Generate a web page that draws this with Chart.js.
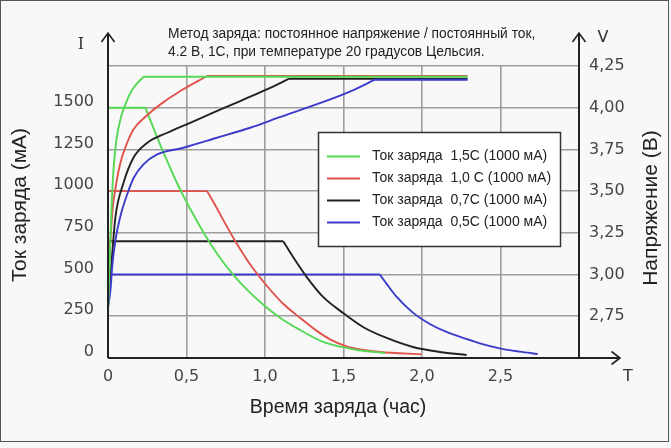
<!DOCTYPE html>
<html>
<head>
<meta charset="utf-8">
<script src="https://cdn.jsdelivr.net/npm/chart.js@4.4.0/dist/chart.umd.min.js"></script>
<style>
  html, body { margin: 0; padding: 0; background: #ffffff; }
  canvas { display: block; }
</style>
</head>
<body>
<canvas id="chartZaryad" width="671" height="448"></canvas>
<script>
// Тексты
var titleLines = [
  "Метод заряда: постоянное напряжение / постоянный ток,",
  "4.2 В, 1С, при температуре 20 градусов Цельсия."
];
var seriesLabels = [
  "Ток заряда  1,5С (1000 мА)",
  "Ток заряда  1,0 С (1000 мА)",
  "Ток заряда  0,7С (1000 мА)",
  "Ток заряда  0,5С (1000 мА)"
];
var seriesColors = ["#55d955", "#e0524c", "#222222", "#3b3bcc"];

// Подписи делений
var timeTickLabels = ["0", "0,5", "1,0", "1,5", "2,0", "2,5", ""];
var currentTickLabels = ["0", "250", "500", "750", "1000", "1250", "1500", ""];
var voltageTickLabels = ["", "2,75", "3,00", "3,25", "3,50", "3,75", "4,00", "4,25"];

// Ток заряда (мА) по времени (час)
var time15I = [0, 0.238, 0.302, 0.366, 0.461, 0.588, 0.696, 0.798, 0.906, 1.014, 1.116, 1.224, 1.37, 1.586, 1.764];
var current15 = [1500, 1500, 1348, 1204, 1007, 785, 623, 498, 390, 300, 228, 168, 96, 48, 30];

var time10I = [0, 0.631, 0.683, 0.747, 0.811, 0.906, 1.014, 1.116, 1.224, 1.319, 1.414, 1.52, 1.62, 1.732, 1.997];
var current10 = [1000, 1000, 915, 805, 700, 560, 430, 325, 240, 170, 112, 70, 50, 36, 22];

var time07I = [0, 1.116, 1.179, 1.266, 1.37, 1.497, 1.624, 1.775, 1.942, 2.114, 2.284];
var current07 = [700, 700, 605, 485, 366, 270, 186, 120, 66, 36, 18];

var time05I = [0, 1.732, 1.775, 1.839, 1.942, 2.05, 2.156, 2.305, 2.368, 2.495, 2.622, 2.737];
var current05 = [500, 500, 444, 366, 272, 204, 156, 108, 88, 58, 38, 24];

// Напряжение (В) по времени (час)
var time15V = [0, 0.013, 0.022, 0.035, 0.054, 0.079, 0.111, 0.156, 0.226, 2.29];
var voltage15 = [2.75, 3.15, 3.39, 3.63, 3.81, 3.93, 4.02, 4.11, 4.186, 4.186];

var time10V = [0, 0.016, 0.029, 0.048, 0.079, 0.122, 0.162, 0.249, 0.334, 0.461, 0.631, 2.29];
var voltage10 = [2.95, 3.21, 3.39, 3.52, 3.67, 3.79, 3.87, 3.955, 4.02, 4.1, 4.19, 4.19];

var time07V = [0, 0.016, 0.029, 0.048, 0.099, 0.162, 0.251, 0.378, 0.512, 0.67, 0.842, 1.012, 1.154, 2.29];
var voltage07 = [2.85, 3.0, 3.15, 3.35, 3.55, 3.7, 3.79, 3.85, 3.905, 3.97, 4.04, 4.11, 4.174, 4.174];

var time05V = [0, 0.016, 0.027, 0.048, 0.079, 0.122, 0.164, 0.226, 0.313, 0.48, 0.694, 0.906, 1.084, 1.358, 1.548, 1.7, 2.29];
var voltage05 = [2.8, 2.91, 3.05, 3.21, 3.35, 3.48, 3.58, 3.66, 3.72, 3.76, 3.82, 3.88, 3.94, 4.03, 4.1, 4.168, 4.168];

function toPoints(times, values) {
  return times.map(function (t, i) { return { x: t, y: values[i] }; });
}

// Кривая делится в точке излома на две части, чтобы излом остался острым
function makeSeries(times, values, corner, color, axisId, label) {
  var pts = toPoints(times, values);
  return [pts.slice(0, corner + 1), pts.slice(corner)].map(function (part) {
    return {
      label: label,
      data: part,
      borderColor: color,
      backgroundColor: color,
      borderWidth: 1.9,
      pointRadius: 0,
      fill: false,
      cubicInterpolationMode: "monotone",
      yAxisID: axisId
    };
  });
}

var datasets = [].concat(
  makeSeries(time15V, voltage15, time15V.length - 2, seriesColors[0], "y1", seriesLabels[0]),
  makeSeries(time10V, voltage10, time10V.length - 2, seriesColors[1], "y1", seriesLabels[1]),
  makeSeries(time05V, voltage05, time05V.length - 2, seriesColors[3], "y1", seriesLabels[3]),
  makeSeries(time07V, voltage07, time07V.length - 2, seriesColors[2], "y1", seriesLabels[2]),
  makeSeries(time15I, current15, 1, seriesColors[0], "y", seriesLabels[0]),
  makeSeries(time10I, current10, 1, seriesColors[1], "y", seriesLabels[1]),
  makeSeries(time07I, current07, 1, seriesColors[2], "y", seriesLabels[2]),
  makeSeries(time05I, current05, 1, seriesColors[3], "y", seriesLabels[3])
);

var tickFont = { family: "'DejaVu Sans', Verdana, sans-serif", size: 16 };
var tickColor = "#444444";
var gridColor = "#9e9e9e";

// Фон, оси со стрелками, подписи и легенда
var decorPlugin = {
  id: "decor",
  beforeDraw: function (chart) {
    var c = chart.ctx;
    c.save();
    c.fillStyle = "#f8f8f8";
    c.fillRect(0, 0, chart.width, chart.height);
    c.strokeStyle = "#555555";
    c.lineWidth = 1;
    c.strokeRect(0.5, 0.5, 668, 441);
    c.restore();
  },
  afterDraw: function (chart) {
    var c = chart.ctx;
    var a = chart.chartArea;
    c.save();

    // оси
    c.strokeStyle = "#222222";
    c.lineWidth = 2;
    c.beginPath();
    c.moveTo(a.left, a.bottom); c.lineTo(a.left, 33);
    c.moveTo(a.right, a.bottom); c.lineTo(a.right, 33);
    c.moveTo(a.left, a.bottom); c.lineTo(620, a.bottom);
    c.stroke();
    c.lineWidth = 1.6;
    c.beginPath();
    c.moveTo(a.left - 6.5, 42); c.lineTo(a.left, 33); c.lineTo(a.left + 6.5, 42);
    c.moveTo(a.right - 6.5, 42); c.lineTo(a.right, 33); c.lineTo(a.right + 6.5, 42);
    c.moveTo(611.5, a.bottom - 6.5); c.lineTo(620, a.bottom); c.lineTo(611.5, a.bottom + 6.5);
    c.stroke();

    // буквы у осей
    c.fillStyle = "#333333";
    c.textAlign = "center";
    c.textBaseline = "middle";
    c.font = "16px 'DejaVu Serif', serif";
    c.fillText("I", 81, 45);
    c.font = "16px 'DejaVu Sans', sans-serif";
    c.fillText("V", 603, 38);
    c.fillText("T", 628, 377);

    // заголовок
    c.fillStyle = "#222222";
    c.textAlign = "left";
    c.font = "13.8px 'Liberation Sans', Arial, sans-serif";
    c.fillText(titleLines[0], 168, 34.5);
    c.fillText(titleLines[1], 168, 52);

    // подписи осей
    c.textAlign = "center";
    c.font = "19.5px 'Liberation Sans', Arial, sans-serif";
    c.fillText("Время заряда (час)", 338, 408);
    c.font = "21px 'Liberation Sans', Arial, sans-serif";
    c.save();
    c.translate(20, 205);
    c.rotate(-Math.PI / 2);
    c.fillText("Ток заряда (мА)", 0, 0);
    c.restore();
    c.save();
    c.translate(651, 208);
    c.rotate(-Math.PI / 2);
    c.fillText("Напряжение (В)", 0, 0);
    c.restore();

    // легенда
    c.fillStyle = "#ffffff";
    c.fillRect(318.5, 132.5, 242, 114);
    c.strokeStyle = "#333333";
    c.lineWidth = 1.5;
    c.strokeRect(318.5, 132.5, 242, 114);
    c.font = "14px 'Liberation Sans', Arial, sans-serif";
    c.textAlign = "left";
    for (var i = 0; i < seriesLabels.length; i++) {
      var yy = 156.5 + i * 22;
      c.strokeStyle = seriesColors[i];
      c.lineWidth = 2;
      c.beginPath();
      c.moveTo(327, yy); c.lineTo(360, yy);
      c.stroke();
      c.fillStyle = "#222222";
      c.fillText(seriesLabels[i], 372, yy);
    }
    c.restore();
  }
};

var ctx = document.getElementById("chartZaryad").getContext("2d");

var chartZaryad = new Chart(ctx, {
  type: "line",
  data: { datasets: datasets },
  options: {
    responsive: false,
    animation: false,
    devicePixelRatio: 1,
    layout: { padding: { top: 66, left: 0, right: 0, bottom: 0 } },
    plugins: {
      legend: { display: false },
      tooltip: { enabled: false }
    },
    scales: {
      x: {
        type: "linear",
        min: 0,
        max: 3,
        afterFit: function (scale) { scale.height = 90; },
        ticks: {
          stepSize: 0.5,
          padding: 9,
          font: tickFont,
          color: tickColor,
          maxRotation: 0,
          callback: function (v, i) { return timeTickLabels[i]; }
        },
        grid: { color: gridColor, lineWidth: 1.6, drawTicks: false },
        border: { display: false }
      },
      y: {
        position: "left",
        min: 0,
        max: 1750,
        afterFit: function (scale) { scale.width = 108; },
        ticks: {
          stepSize: 250,
          padding: 14,
          labelOffset: -6,
          font: tickFont,
          color: tickColor,
          callback: function (v, i) { return currentTickLabels[i]; }
        },
        grid: { color: gridColor, lineWidth: 1.6, drawTicks: false },
        border: { display: false }
      },
      y1: {
        position: "right",
        min: 2.5,
        max: 4.25,
        afterFit: function (scale) { scale.width = 92; },
        ticks: {
          stepSize: 0.25,
          padding: 10,
          font: tickFont,
          color: tickColor,
          callback: function (v, i) { return voltageTickLabels[i]; }
        },
        grid: { display: false, drawTicks: false },
        border: { display: false }
      }
    }
  },
  plugins: [decorPlugin]
});
</script>
</body>
</html>
